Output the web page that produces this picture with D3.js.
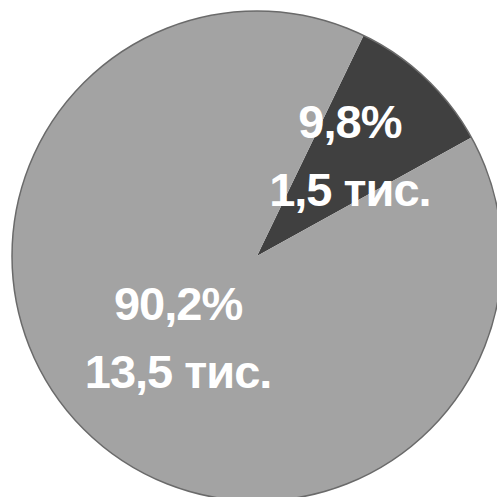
<!DOCTYPE html>
<html>
<head>
<meta charset="utf-8">
<script src="https://cdn.jsdelivr.net/npm/d3@7"></script>
<style>
  body { margin: 0; background: #fff; }
</style>
</head>
<body>
<svg id="chart"></svg>
<script>
var w = 497,
  h = 497;

// slices: small dark one first, clockwise from ~26deg
var categories = ["small", "large"];
var percents = ["9,8%", "90,2%"];
var amounts = ["1,5 тис.", "13,5 тис."];
var values = [9.8, 90.2];
var colors = ["#404040", "#a3a3a3"];

var svg = d3.select("#chart").attr("width", w).attr("height", h);

var cx = 257,
  cy = 256,
  r = 245;

var pie = d3
  .pie()
  .sort(null)
  .startAngle(0.45)
  .endAngle(0.45 + 2 * Math.PI)
  .value(d => d.value);

var data = categories.map((c, i) => ({
  name: c,
  value: values[i],
  pct: percents[i],
  amt: amounts[i],
  color: colors[i]
}));

var arc = d3.arc().innerRadius(0).outerRadius(r);
var labelArc = d3.arc().innerRadius(125).outerRadius(125);

var g = svg.append("g").attr("transform", `translate(${cx}, ${cy})`);

g.selectAll("path")
  .data(pie(data))
  .enter()
  .append("path")
  .attr("d", arc)
  .attr("fill", d => d.data.color);

// thin outline round the pie
g.append("circle")
  .attr("r", r)
  .attr("fill", "none")
  .attr("stroke", "#6a6a6a")
  .attr("stroke-width", 1.5);

let labels = g
  .selectAll("g.lbl")
  .data(pie(data))
  .enter()
  .append("g")
  .attr("class", "lbl")
  .attr("transform", d => {
    let [x, y] = labelArc.centroid(d);
    return `translate(${x + 7}, ${y - 7})`;
  });

labels
  .append("text")
  .text(d => d.data.pct)
  .attr("y", -20)
  .attr("text-anchor", "middle")
  .attr("font-family", "Liberation Sans, Arial, sans-serif")
  .attr("font-weight", "bold")
  .attr("font-size", 47)
  .attr("letter-spacing", -1)
  .attr("fill", "white");

labels
  .append("text")
  .text(d => d.data.amt)
  .attr("y", 48)
  .attr("text-anchor", "middle")
  .attr("font-family", "Liberation Sans, Arial, sans-serif")
  .attr("font-weight", "bold")
  .attr("font-size", 47)
  .attr("letter-spacing", -1)
  .attr("fill", "white");
</script>
</body>
</html>
